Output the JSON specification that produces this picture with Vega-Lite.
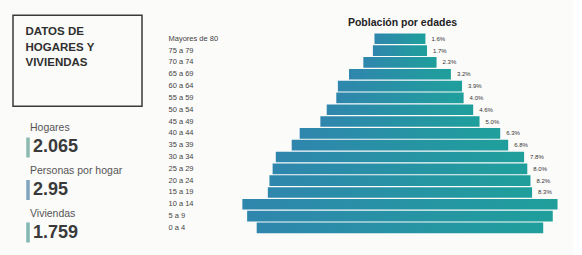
{
  "$schema": "https://vega.github.io/schema/vega-lite/v6.json",
  "background": "#fbfbfa",
  "padding": {"left": 12, "top": 14.25, "right": 0, "bottom": 0},
  "config": {
    "view": {"stroke": null},
    "font": "Liberation Sans"
  },
  "spacing": 24.5,
  "hconcat": [
    {
      "spacing": 15,
      "vconcat": [
        {
          "width": 129,
          "height": 91,
          "view": {"stroke": "#3a3a3a", "strokeWidth": 1.5},
          "data": {"values": [
            {"texto": "DATOS DE\nHOGARES Y\nVIVIENDAS"}
          ]},
          "mark": {"type": "text", "align": "left", "baseline": "middle", "lineBreak": "\n", "lineHeight": 15.5, "dx": -52, "dy": -28.5, "font": "Liberation Sans", "fontWeight": "bold", "fontSize": 11.5, "color": "#2f2f2f"},
          "encoding": {
            "text": {"field": "texto"}
          }
        },
        {
          "width": 30,
          "height": 140,
          "data": {"values": [
            {"indicador": "Hogares", "valor": "2.065"},
            {"indicador": "Personas por hogar", "valor": "2.95"},
            {"indicador": "Viviendas", "valor": "1.759"}
          ]},
          "encoding": {
            "y": {"field": "indicador", "type": "nominal", "sort": null, "axis": null, "scale": {"type": "band", "paddingInner": 0, "paddingOuter": 0.147, "align": 0.32}}
          },
          "layer": [
            {
              "mark": {"type": "tick", "orient": "vertical", "size": 20, "thickness": 3.5},
              "encoding": {
                "color": {"field": "indicador", "type": "nominal", "sort": null, "legend": null, "scale": {"range": ["#5e9e8e", "#4d80a3", "#4f9a93"]}}
              }
            },
            {
              "mark": {"type": "text", "align": "left", "baseline": "middle", "dx": 2, "dy": -19, "fontSize": 10.5, "color": "#555555"},
              "encoding": {"text": {"field": "indicador"}}
            },
            {
              "mark": {"type": "text", "align": "left", "baseline": "middle", "dx": 5, "fontSize": 18, "fontWeight": "bold", "color": "#3a3a3a"},
              "encoding": {"text": {"field": "valor"}}
            }
          ]
        }
      ]
    },
    {
      "width": 340,
      "height": 218,
      "title": {"text": "Población por edades", "fontSize": 10.5, "font": "Liberation Sans", "fontWeight": "bold", "color": "#222222", "offset": -13, "anchor": "middle"},
      "data": {"values": [
        {"edad": "Mayores de 80", "pct": 1.6, "etiqueta": "1.6%"},
        {"edad": "75 a 79", "pct": 1.7, "etiqueta": "1.7%"},
        {"edad": "70 a 74", "pct": 2.3, "etiqueta": "2.3%"},
        {"edad": "65 a 69", "pct": 3.2, "etiqueta": "3.2%"},
        {"edad": "60 a 64", "pct": 3.9, "etiqueta": "3.9%"},
        {"edad": "55 a 59", "pct": 4.0, "etiqueta": "4.0%"},
        {"edad": "50 a 54", "pct": 4.6, "etiqueta": "4.6%"},
        {"edad": "45 a 49", "pct": 5.0, "etiqueta": "5.0%"},
        {"edad": "40 a 44", "pct": 6.3, "etiqueta": "6.3%"},
        {"edad": "35 a 39", "pct": 6.8, "etiqueta": "6.8%"},
        {"edad": "30 a 34", "pct": 7.8, "etiqueta": "7.8%"},
        {"edad": "25 a 29", "pct": 8.0, "etiqueta": "8.0%"},
        {"edad": "20 a 24", "pct": 8.2, "etiqueta": "8.2%"},
        {"edad": "15 a 19", "pct": 8.3, "etiqueta": "8.3%"},
        {"edad": "10 a 14", "pct": 9.9, "etiqueta": ""},
        {"edad": "5 a 9", "pct": 9.6, "etiqueta": ""},
        {"edad": "0 a 4", "pct": 9.0, "etiqueta": ""}
      ]},
      "encoding": {
        "y": {"field": "edad", "type": "nominal", "sort": null,
              "scale": {"paddingInner": 0.1, "paddingOuter": 0.77, "align": 1},
              "axis": {"title": null, "labelAlign": "left", "labelPadding": 64.5, "ticks": false, "tickSize": 0, "domain": false, "labelFontSize": 7.5, "labelColor": "#444444", "labelFont": "Liberation Sans"}},
        "x": {"field": "pct", "type": "quantitative", "stack": "center", "scale": {"domain": [-0.31, 10.37], "nice": false, "zero": false}, "axis": null}
      },
      "layer": [
        {
          "mark": {"type": "bar", "color": {"gradient": "linear", "x1": 0, "x2": 1, "y1": 0, "y2": 0, "stops": [{"offset": 0, "color": "#2f86ad"}, {"offset": 1, "color": "#1f9f9c"}]}}
        },
        {
          "mark": {"type": "text", "align": "left", "baseline": "middle", "dx": 6, "fontSize": 6, "color": "#333333"},
          "encoding": {"text": {"field": "etiqueta"}}
        }
      ]
    }
  ]
}
